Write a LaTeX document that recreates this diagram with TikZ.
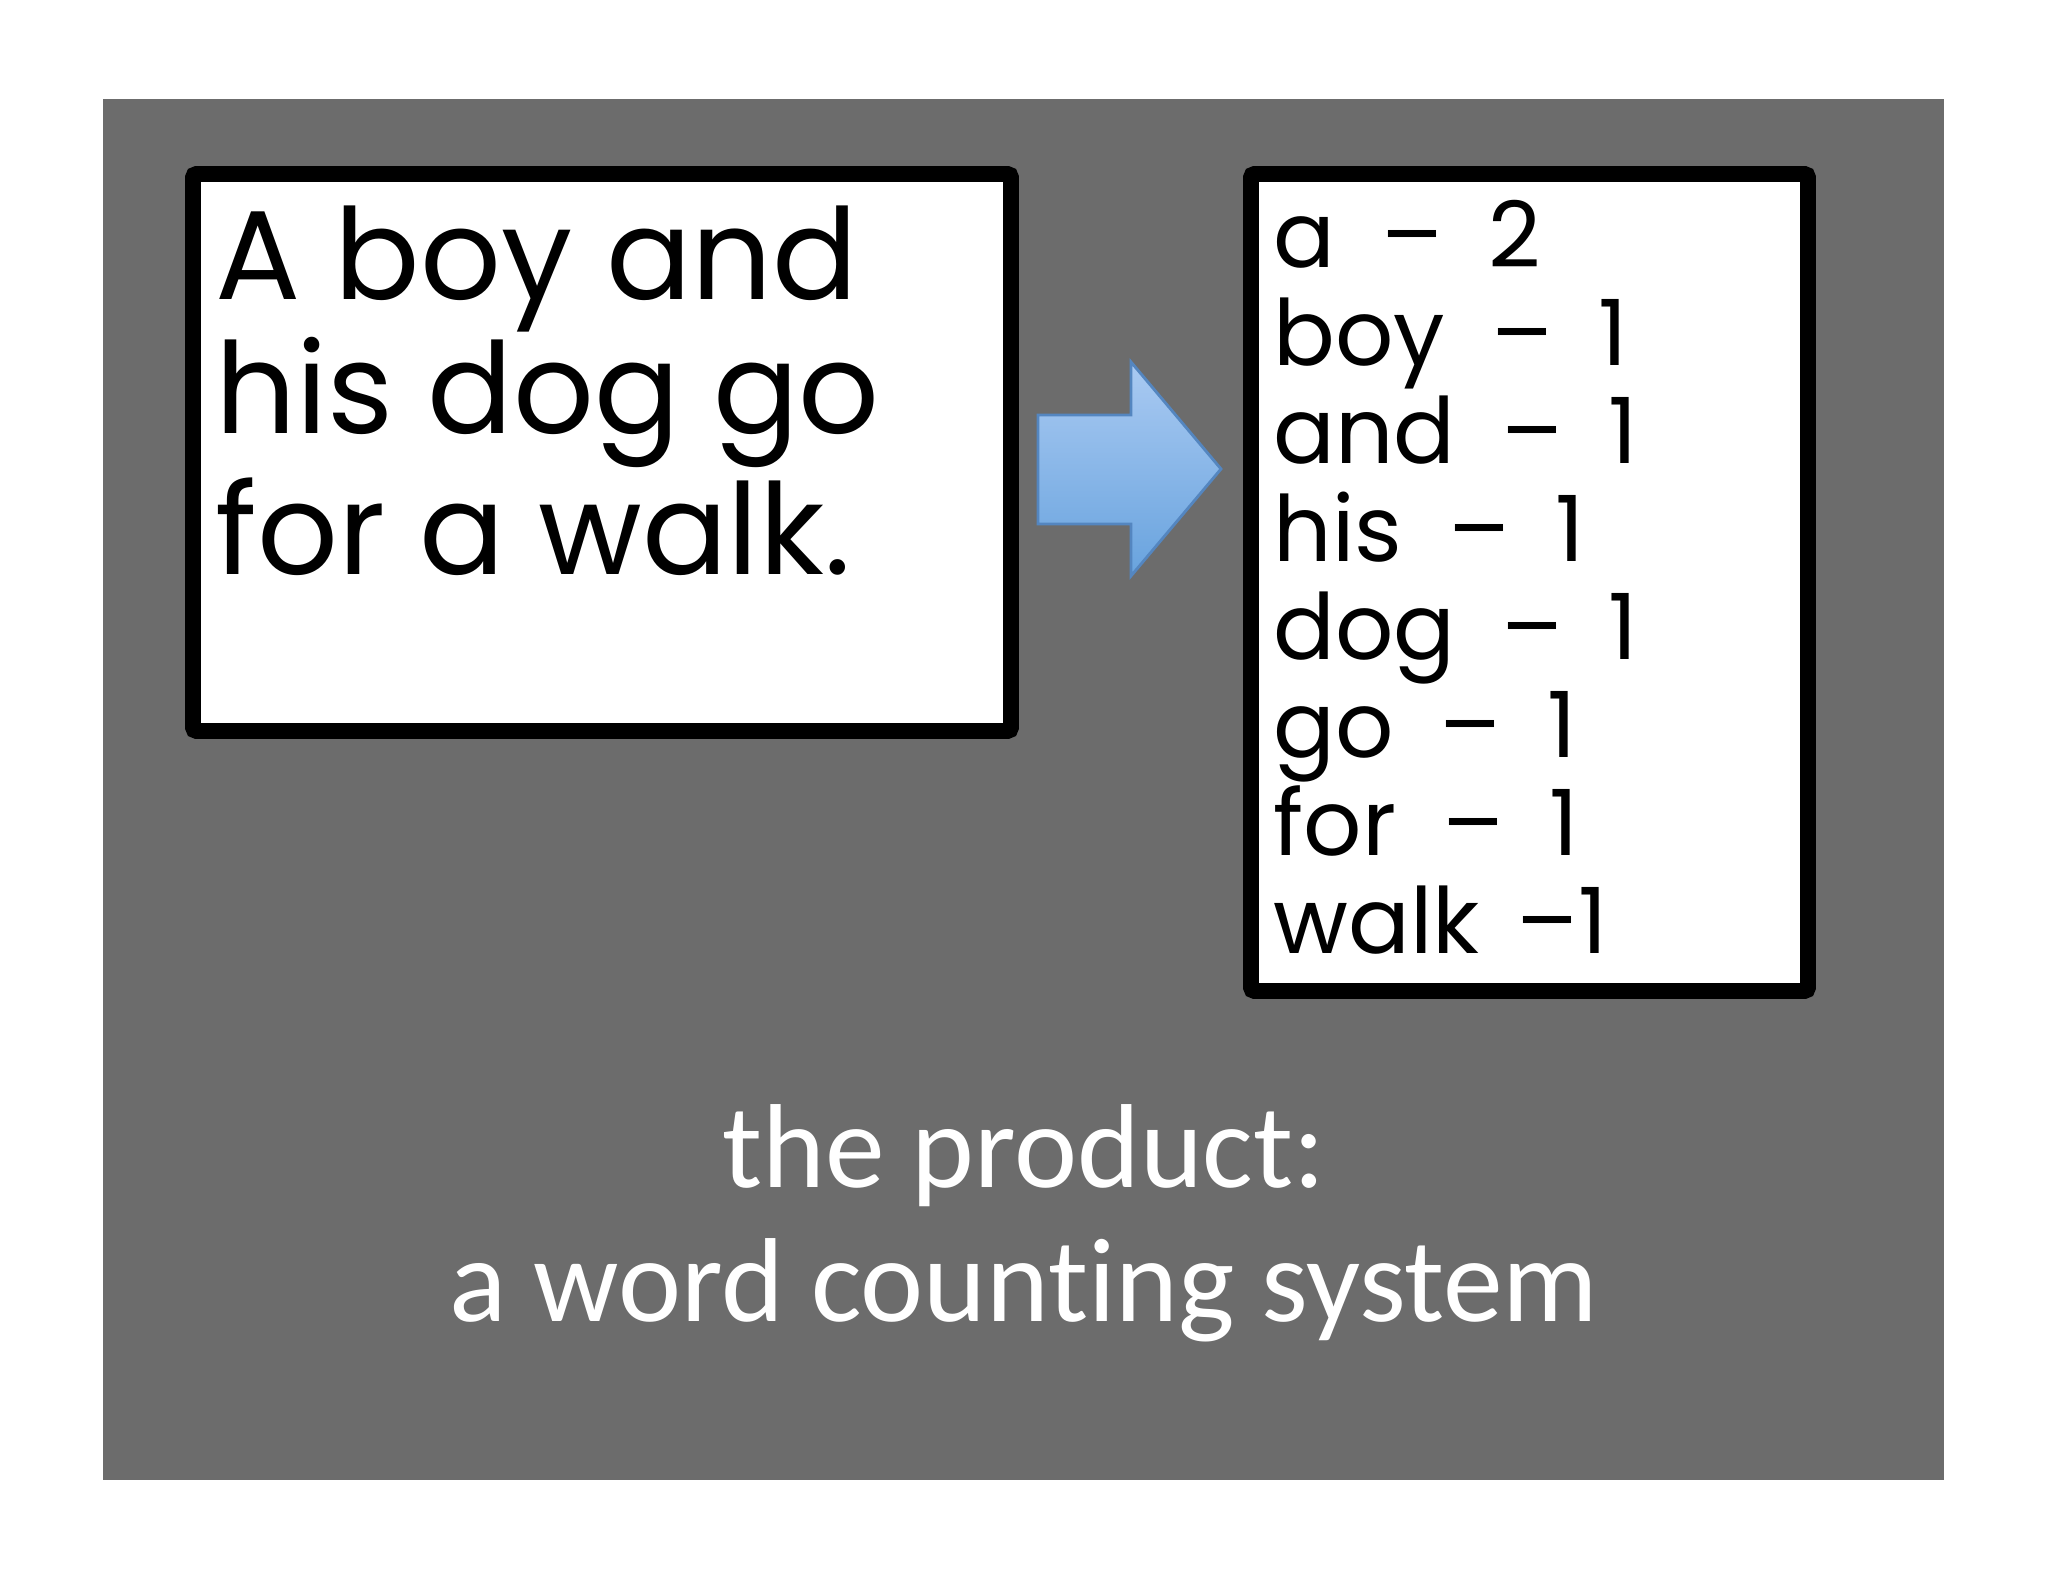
\documentclass[tikz,border=0pt]{standalone}
\usepackage{fontspec}
\setmainfont{Carlito}[Ligatures=NoCommon]
\newfontfamily\handfont{Poppins}
\definecolor{slidegray}{RGB}{108,108,108}
\definecolor{arrowtop}{RGB}{170,202,242}
\definecolor{arrowbot}{RGB}{104,163,222}
\definecolor{arrowline}{RGB}{84,134,192}
\newcommand{\dsh}{\hspace{0.5em}\textendash\hspace{0.5em}}
\tikzset{
  paper/.style={draw=black,line width=4.5pt,fill=white,rounded corners=1pt},
  sentence/.style={anchor=base west,inner sep=0pt,font=\handfont\fontsize{36}{36}\selectfont},
  tally/.style={anchor=base west,inner sep=0pt,font=\handfont\fontsize{26}{26}\selectfont},
  caption/.style={anchor=base,inner sep=0pt,text=white,font=\fontsize{34}{34}\selectfont}
}
\begin{document}
\begin{tikzpicture}
  \useasboundingbox[fill=white] (0,0) rectangle (20.48,15.82);

  \fill[slidegray] (1.03,1.02) rectangle (19.44,14.83);

  % input text
  \draw[paper] (1.93,8.51) rectangle (10.11,14.08);
  \node[sentence] (line1) at (2.15,12.82) {A boy and};
  \node[sentence] (line2) at (2.15,11.48) {his dog go};
  \node[sentence] (line3) at (2.15,10.07) {for a walk.};

  % the arrow
  \shade[top color=arrowtop,bottom color=arrowbot,draw=arrowline,line width=0.8pt]
    (10.38,11.67) -- (11.31,11.67) -- (11.31,12.20) -- (12.21,11.13)
    -- (11.31,10.06) -- (11.31,10.58) -- (10.38,10.58) -- cycle;

  % word counts
  \draw[paper] (12.51,5.91) rectangle (18.08,14.08);
  \foreach \w [count=\i] in {a\dsh 2,boy\dsh 1,and\dsh 1,his\dsh 1,
      dog\dsh 1,go\dsh 1,for\dsh 1,walk\hspace{0.4em}\textendash1}
    \node[tally] (count\i) at (12.73,14.12-0.98*\i) {\w};

  \node[caption] (title1) at (10.24,3.94) {the product:};
  \node[caption] (title2) at (10.24,2.60) {a word counting system};
\end{tikzpicture}
\end{document}
